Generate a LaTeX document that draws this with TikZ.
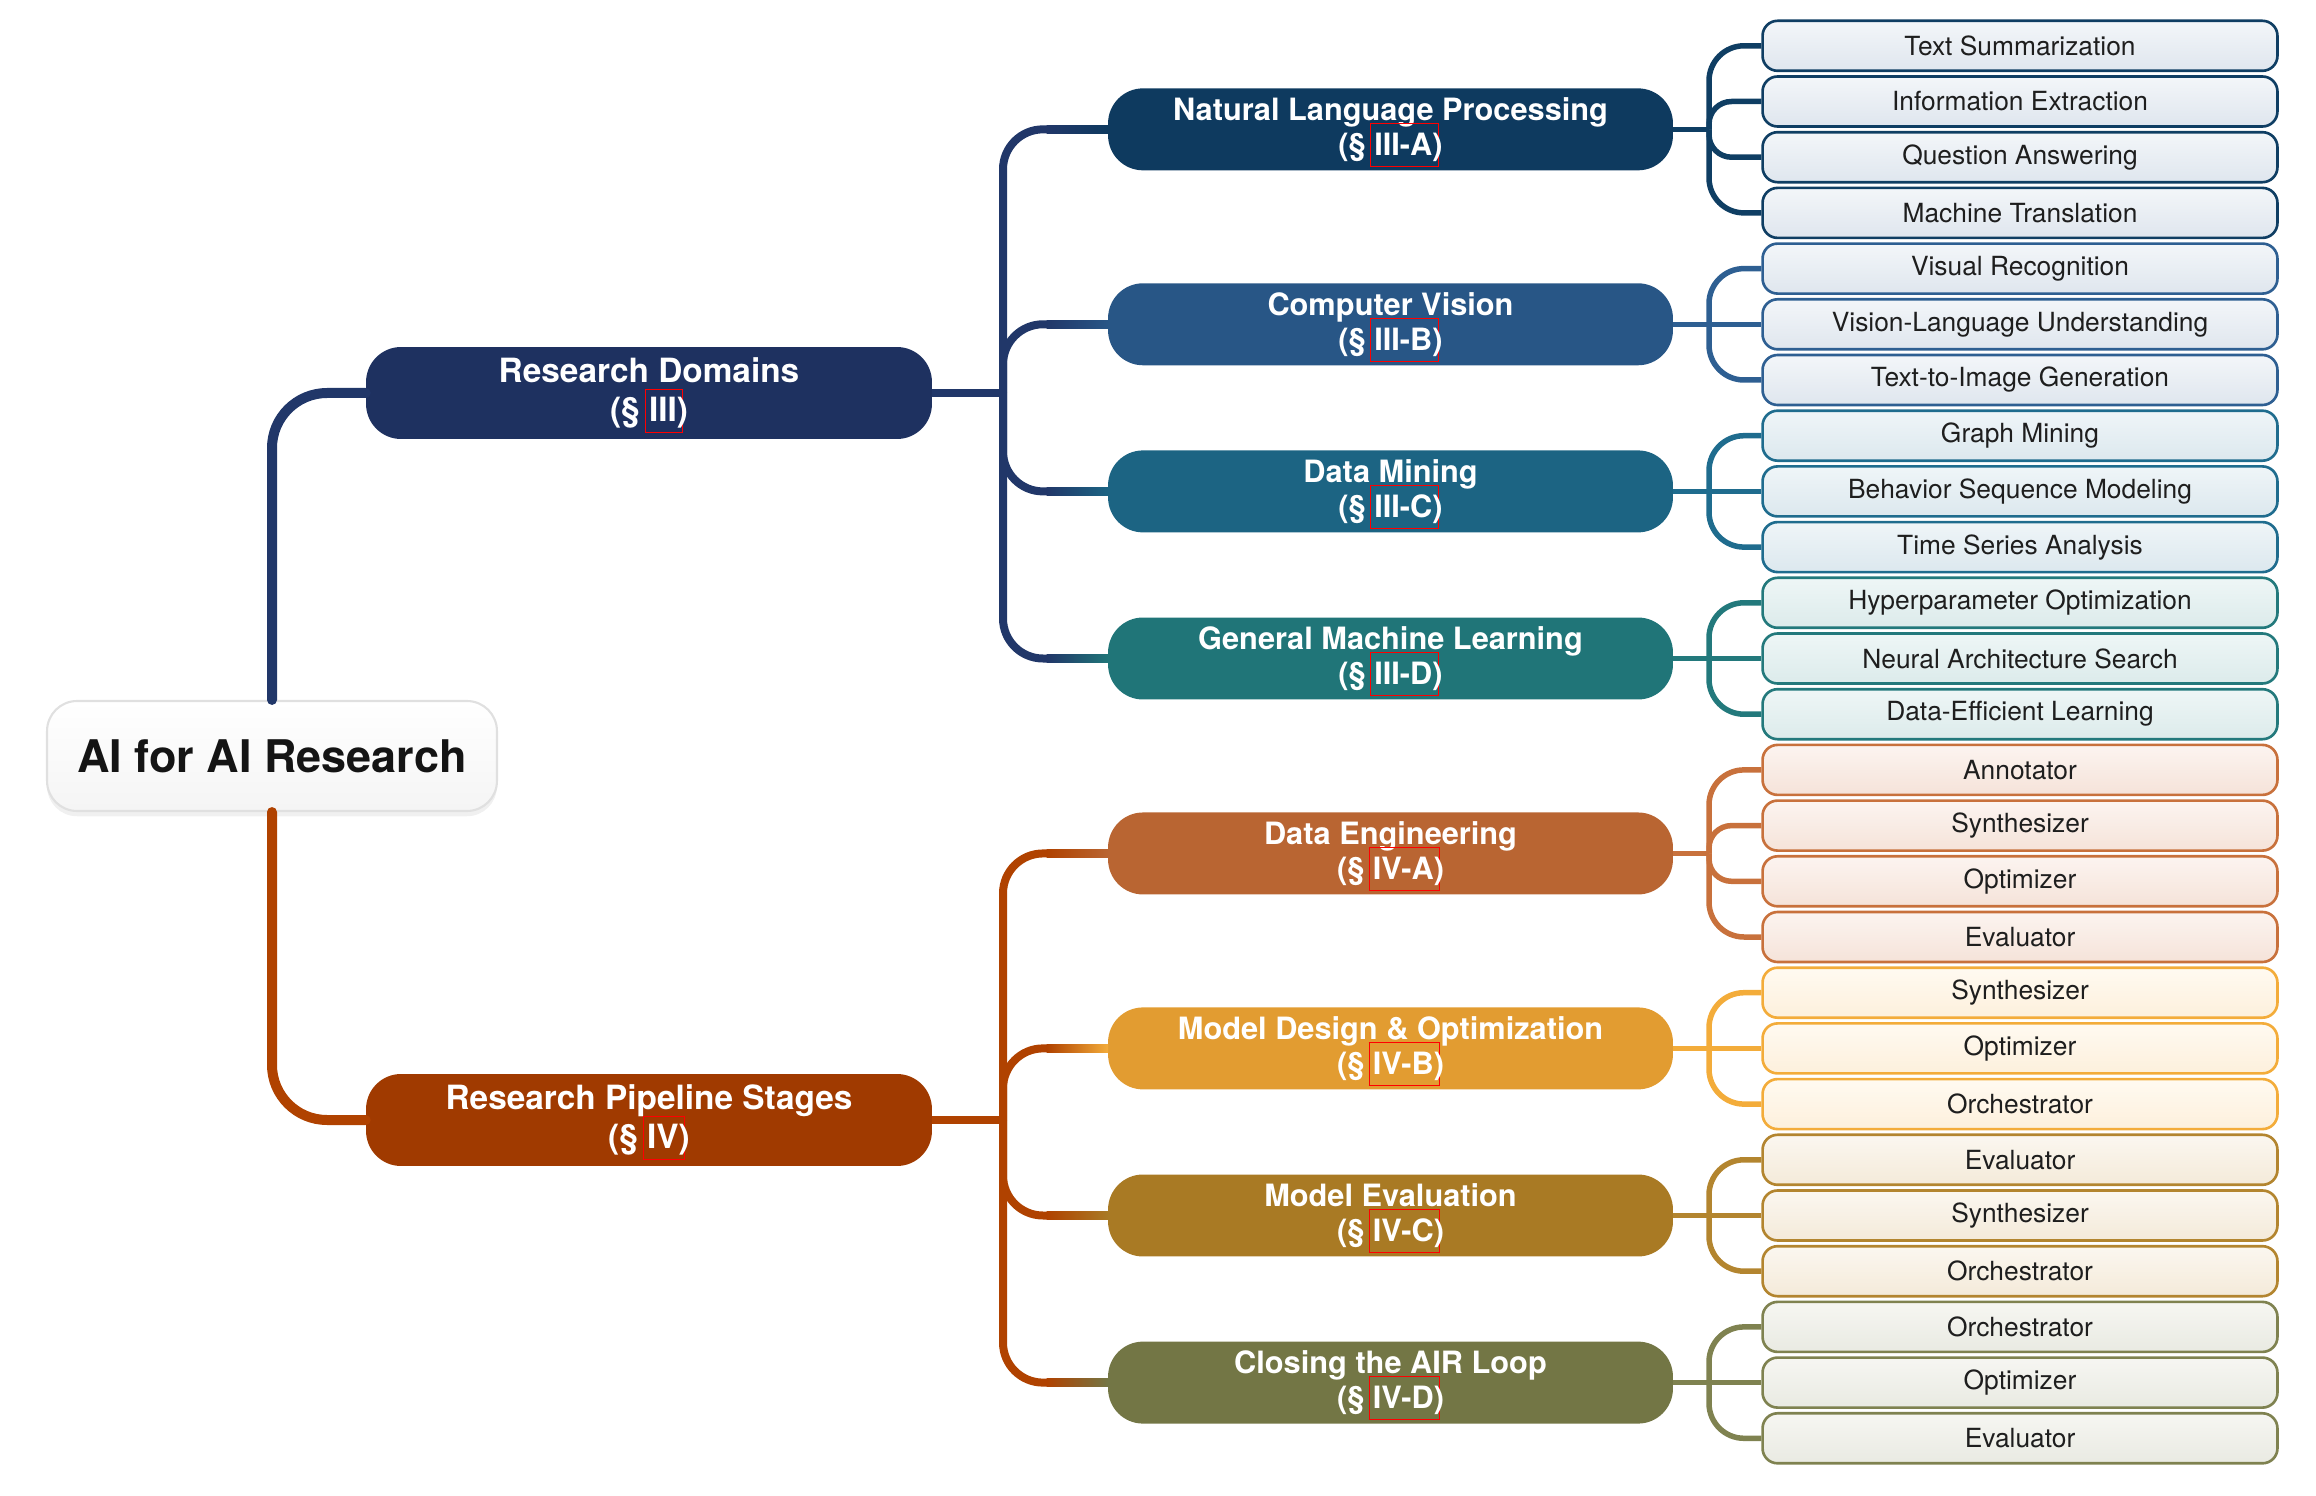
\documentclass[tikz,border=0pt]{standalone}
\usepackage{fontspec}
\setmainfont{TeX Gyre Heros}
\usetikzlibrary{calc,shadows}

\definecolor{c_roottext}{HTML}{141414}
\definecolor{c_leaftext}{HTML}{1E1E1E}
\definecolor{c_dom}{HTML}{1E3160}
\definecolor{c_domline}{HTML}{213769}
\definecolor{c_pipe}{HTML}{A03A00}
\definecolor{c_pipeline}{HTML}{B04200}
\definecolor{c_nlp}{HTML}{0E3A5F}
\definecolor{l_nlp}{HTML}{0F3E63}
\definecolor{c_cv}{HTML}{285686}
\definecolor{l_cv}{HTML}{2E5F92}
\definecolor{c_dm}{HTML}{1C6483}
\definecolor{l_dm}{HTML}{1F6C8E}
\definecolor{c_gml}{HTML}{207578}
\definecolor{l_gml}{HTML}{23797C}
\definecolor{c_de}{HTML}{B96532}
\definecolor{l_de}{HTML}{C8713C}
\definecolor{c_mdo}{HTML}{E29C31}
\definecolor{l_mdo}{HTML}{F3AC3A}
\definecolor{c_me}{HTML}{A97A24}
\definecolor{l_me}{HTML}{B3852F}
\definecolor{c_cal}{HTML}{737645}
\definecolor{l_cal}{HTML}{7F8250}

\newcommand{\secref}[1]{\makebox[0pt][l]{\hspace{-2.5pt}\smash{\textcolor{red}{\fboxsep=0pt\fboxrule=0.6pt\fbox{\rule[-6pt]{0pt}{24pt}\phantom{#1}\hspace{5pt}}}}}#1}

\begin{document}
\begin{tikzpicture}[x=0.02cm,y=-0.02cm]
\tikzset{
  rootnode/.style={rounded corners=0.6cm,draw=black!12,line width=1.2pt,top color=white,bottom color=black!4,minimum width=9.0cm,minimum height=2.2cm,inner sep=0pt,text=c_roottext,font=\bfseries\fontsize{25.6}{30}\selectfont,drop shadow={shadow xshift=0pt,shadow yshift=-3pt,opacity=0.12}},
  domnode/.style={rounded corners=0.7cm,minimum width=11.32cm,minimum height=1.84cm,inner sep=0pt,align=center,text=white,font=\bfseries\fontsize{19}{22.3}\selectfont},
  subnode/.style={rounded corners=0.7cm,minimum width=11.3cm,minimum height=1.64cm,inner sep=0pt,align=center,text=white,font=\bfseries\fontsize{17.5}{20}\selectfont},
  leafnode/.style={rounded corners=0.3cm,line width=1.5pt,minimum width=10.3cm,minimum height=1.0cm,inner sep=0pt,text=c_leaftext,font=\fontsize{15}{18}\selectfont},
  leafnlp/.style={leafnode,draw=l_nlp,top color=HTMLf3f6f9,bottom color=HTMLdfe6ee},
  leafcv/.style={leafnode,draw=l_cv,top color=HTMLf3f6f9,bottom color=HTMLdfe6ee},
  leafdm/.style={leafnode,draw=l_dm,top color=HTMLeff5f8,bottom color=HTMLdce8ee},
  leafgml/.style={leafnode,draw=l_gml,top color=HTMLeef6f6,bottom color=HTMLdcebeb},
  leafde/.style={leafnode,draw=l_de,top color=HTMLfcf4f0,bottom color=HTMLf5e3d9},
  leafmdo/.style={leafnode,draw=l_mdo,top color=HTMLfffaf1,bottom color=HTMLfdf0dc},
  leafme/.style={leafnode,draw=l_me,top color=HTMLfbf7f0,bottom color=HTMLf4ead9},
  leafcal/.style={leafnode,draw=l_cal,top color=HTMLf6f6f2,bottom color=HTMLe9eae2},
  rootedge/.style={line width=0.2cm,line cap=round,rounded corners=1.1cm},
  trunkedge/.style={line width=0.16cm,rounded corners=0.8cm},
  leafedge/.style={line width=0.11cm,rounded corners=0.7cm},
  inneredge/.style={leafedge,rounded corners=0.45cm}
}
\definecolor{HTMLf3f6f9}{HTML}{F3F6F9}\definecolor{HTMLdfe6ee}{HTML}{DFE6EE}
\definecolor{HTMLeff5f8}{HTML}{EFF5F8}\definecolor{HTMLdce8ee}{HTML}{DCE8EE}
\definecolor{HTMLeef6f6}{HTML}{EEF6F6}\definecolor{HTMLdcebeb}{HTML}{DCEBEB}
\definecolor{HTMLfcf4f0}{HTML}{FCF4F0}\definecolor{HTMLf5e3d9}{HTML}{F5E3D9}
\definecolor{HTMLfffaf1}{HTML}{FFFAF1}\definecolor{HTMLfdf0dc}{HTML}{FDF0DC}
\definecolor{HTMLfbf7f0}{HTML}{FBF7F0}\definecolor{HTMLf4ead9}{HTML}{F4EAD9}
\definecolor{HTMLf6f6f2}{HTML}{F6F6F2}\definecolor{HTMLe9eae2}{HTML}{E9EAE2}
\useasboundingbox (0,0) rectangle (2316,1496);

\node[rootnode] (n_root) at (272,756) {AI for AI Research};
\node[domnode,fill=c_dom] (n_dom) at (649,393) {Research Domains\\(\S\ \secref{III})};
\node[domnode,fill=c_pipe] (n_pipe) at (649,1120) {Research Pipeline Stages\\(\S\ \secref{IV})};

\node[subnode,fill=c_nlp] (n_nlp) at (1390.5,129.35) {Natural Language Processing\\(\S\ \secref{III-A})};
\node[subnode,fill=c_cv] (n_cv) at (1390.5,324.3) {Computer Vision\\(\S\ \secref{III-B})};
\node[subnode,fill=c_dm] (n_dm) at (1390.5,491.4) {Data Mining\\(\S\ \secref{III-C})};
\node[subnode,fill=c_gml] (n_gml) at (1390.5,658.5) {General Machine Learning\\(\S\ \secref{III-D})};
\node[subnode,fill=c_de] (n_de) at (1390.5,853.45) {Data Engineering\\(\S\ \secref{IV-A})};
\node[subnode,fill=c_mdo] (n_mdo) at (1390.5,1048.4) {Model Design \& Optimization\\(\S\ \secref{IV-B})};
\node[subnode,fill=c_me] (n_me) at (1390.5,1215.5) {Model Evaluation\\(\S\ \secref{IV-C})};
\node[subnode,fill=c_cal] (n_cal) at (1390.5,1382.6) {Closing the AIR Loop\\(\S\ \secref{IV-D})};

\node[leafnlp] (n_ts) at (2020,45.8) {Text Summarization};
\node[leafnlp] (n_ie) at (2020,101.5) {Information Extraction};
\node[leafnlp] (n_qa) at (2020,157.2) {Question Answering};
\node[leafnlp] (n_mt) at (2020,212.9) {Machine Translation};
\node[leafcv] (n_vr) at (2020,268.6) {Visual Recognition};
\node[leafcv] (n_vlu) at (2020,324.3) {Vision-Language Understanding};
\node[leafcv] (n_tti) at (2020,380.0) {Text-to-Image Generation};
\node[leafdm] (n_gm) at (2020,435.7) {Graph Mining};
\node[leafdm] (n_bsm) at (2020,491.4) {Behavior Sequence Modeling};
\node[leafdm] (n_tsa) at (2020,547.1) {Time Series Analysis};
\node[leafgml] (n_hpo) at (2020,602.8) {Hyperparameter Optimization};
\node[leafgml] (n_nas) at (2020,658.5) {Neural Architecture Search};
\node[leafgml] (n_del) at (2020,714.2) {Data-Efficient Learning};
\node[leafde] (n_de_ann) at (2020,769.9) {Annotator};
\node[leafde] (n_de_syn) at (2020,825.6) {Synthesizer};
\node[leafde] (n_de_opt) at (2020,881.3) {Optimizer};
\node[leafde] (n_de_eva) at (2020,937.0) {Evaluator};
\node[leafmdo] (n_mdo_syn) at (2020,992.7) {Synthesizer};
\node[leafmdo] (n_mdo_opt) at (2020,1048.4) {Optimizer};
\node[leafmdo] (n_mdo_orc) at (2020,1104.1) {Orchestrator};
\node[leafme] (n_me_eva) at (2020,1159.8) {Evaluator};
\node[leafme] (n_me_syn) at (2020,1215.5) {Synthesizer};
\node[leafme] (n_me_orc) at (2020,1271.2) {Orchestrator};
\node[leafcal] (n_cal_orc) at (2020,1326.9) {Orchestrator};
\node[leafcal] (n_cal_opt) at (2020,1382.6) {Optimizer};
\node[leafcal] (n_cal_eva) at (2020,1438.3) {Evaluator};

\coordinate (n_dom_j) at (1003,393);
\coordinate (n_pipe_j) at (1003,1120);
\coordinate (n_nlp_j) at (1709,129.35);
\coordinate (n_cv_j) at (1709,324.3);
\coordinate (n_dm_j) at (1709,491.4);
\coordinate (n_gml_j) at (1709,658.5);
\coordinate (n_de_j) at (1709,853.45);
\coordinate (n_mdo_j) at (1709,1048.4);
\coordinate (n_me_j) at (1709,1215.5);
\coordinate (n_cal_j) at (1709,1382.6);

\draw[rootedge,c_domline] (n_root.north) |- (n_dom.west);
\draw[rootedge,c_pipeline] (n_root.south) |- (n_pipe.west);

\draw[trunkedge,c_domline] (n_dom.east) -- (n_dom_j);
\draw[trunkedge,c_domline] (n_dom_j) |- (n_nlp.west);
\draw[trunkedge,c_domline] (n_dom_j) |- (n_cv.west);
\draw[trunkedge,c_domline] (n_dom_j) |- (n_dm.west);
\draw[trunkedge,c_domline] (n_dom_j) |- (n_gml.west);
\draw[trunkedge,c_pipeline] (n_pipe.east) -- (n_pipe_j);
\draw[trunkedge,c_pipeline] (n_pipe_j) |- (n_de.west);
\draw[trunkedge,c_pipeline] (n_pipe_j) |- (n_mdo.west);
\draw[trunkedge,c_pipeline] (n_pipe_j) |- (n_me.west);
\draw[trunkedge,c_pipeline] (n_pipe_j) |- (n_cal.west);
\shade[left color=c_domline,right color=c_nlp] ($(n_nlp.west)+(-61,-4)$) rectangle ($(n_nlp.west)+(0.5,4)$);
\shade[left color=c_domline,right color=c_cv] ($(n_cv.west)+(-61,-4)$) rectangle ($(n_cv.west)+(0.5,4)$);
\shade[left color=c_domline,right color=c_dm] ($(n_dm.west)+(-61,-4)$) rectangle ($(n_dm.west)+(0.5,4)$);
\shade[left color=c_domline,right color=c_gml] ($(n_gml.west)+(-61,-4)$) rectangle ($(n_gml.west)+(0.5,4)$);
\shade[left color=c_pipeline,right color=c_de] ($(n_de.west)+(-61,-4)$) rectangle ($(n_de.west)+(0.5,4)$);
\shade[left color=c_pipeline,right color=l_mdo] ($(n_mdo.west)+(-61,-4)$) rectangle ($(n_mdo.west)+(0.5,4)$);
\shade[left color=c_pipeline,right color=c_me] ($(n_me.west)+(-61,-4)$) rectangle ($(n_me.west)+(0.5,4)$);
\shade[left color=c_pipeline,right color=c_cal] ($(n_cal.west)+(-61,-4)$) rectangle ($(n_cal.west)+(0.5,4)$);

\draw[leafedge,l_nlp] (n_nlp.east) -- (n_nlp_j);
\draw[leafedge,l_nlp] (n_nlp_j) |- (n_ts.west);
\draw[inneredge,l_nlp] (n_nlp_j) |- (n_ie.west);
\draw[inneredge,l_nlp] (n_nlp_j) |- (n_qa.west);
\draw[leafedge,l_nlp] (n_nlp_j) |- (n_mt.west);
\draw[leafedge,l_cv] (n_cv.east) -- (n_cv_j);
\draw[leafedge,l_cv] (n_cv_j) |- (n_vr.west);
\draw[leafedge,l_cv] (n_cv_j) -- (n_vlu.west);
\draw[leafedge,l_cv] (n_cv_j) |- (n_tti.west);
\draw[leafedge,l_dm] (n_dm.east) -- (n_dm_j);
\draw[leafedge,l_dm] (n_dm_j) |- (n_gm.west);
\draw[leafedge,l_dm] (n_dm_j) -- (n_bsm.west);
\draw[leafedge,l_dm] (n_dm_j) |- (n_tsa.west);
\draw[leafedge,l_gml] (n_gml.east) -- (n_gml_j);
\draw[leafedge,l_gml] (n_gml_j) |- (n_hpo.west);
\draw[leafedge,l_gml] (n_gml_j) -- (n_nas.west);
\draw[leafedge,l_gml] (n_gml_j) |- (n_del.west);
\draw[leafedge,l_de] (n_de.east) -- (n_de_j);
\draw[leafedge,l_de] (n_de_j) |- (n_de_ann.west);
\draw[inneredge,l_de] (n_de_j) |- (n_de_syn.west);
\draw[inneredge,l_de] (n_de_j) |- (n_de_opt.west);
\draw[leafedge,l_de] (n_de_j) |- (n_de_eva.west);
\draw[leafedge,l_mdo] (n_mdo.east) -- (n_mdo_j);
\draw[leafedge,l_mdo] (n_mdo_j) |- (n_mdo_syn.west);
\draw[leafedge,l_mdo] (n_mdo_j) -- (n_mdo_opt.west);
\draw[leafedge,l_mdo] (n_mdo_j) |- (n_mdo_orc.west);
\draw[leafedge,l_me] (n_me.east) -- (n_me_j);
\draw[leafedge,l_me] (n_me_j) |- (n_me_eva.west);
\draw[leafedge,l_me] (n_me_j) -- (n_me_syn.west);
\draw[leafedge,l_me] (n_me_j) |- (n_me_orc.west);
\draw[leafedge,l_cal] (n_cal.east) -- (n_cal_j);
\draw[leafedge,l_cal] (n_cal_j) |- (n_cal_orc.west);
\draw[leafedge,l_cal] (n_cal_j) -- (n_cal_opt.west);
\draw[leafedge,l_cal] (n_cal_j) |- (n_cal_eva.west);
\end{tikzpicture}
\end{document}
